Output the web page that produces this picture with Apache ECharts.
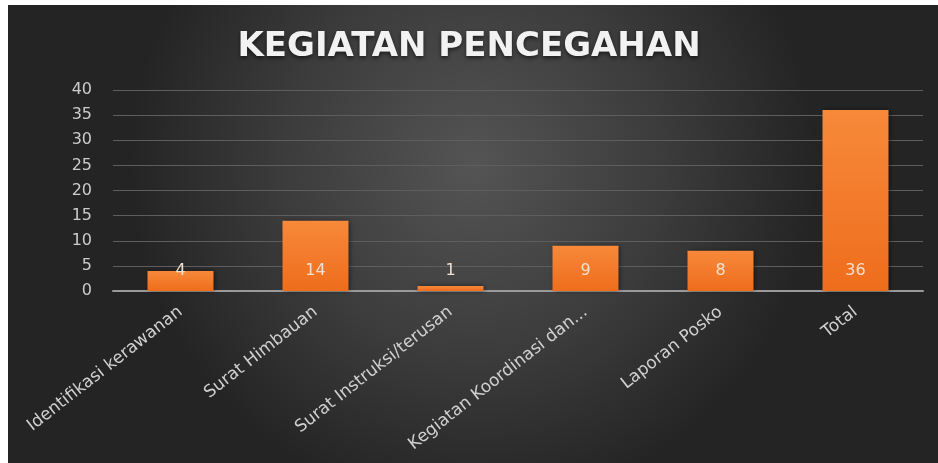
<!DOCTYPE html>
<html>
<head>
<meta charset="utf-8">
<script src="https://cdn.jsdelivr.net/npm/echarts@6/dist/echarts.min.js"></script>
<style>
  html, body { margin: 0; padding: 0; background: #ffffff; }
  #chart { width: 938px; height: 463px; }
</style>
</head>
<body>
<div id="chart"></div>
<script>
// kategori kegiatan
var categories = ['Identifikasi kerawanan', 'Surat Himbauan', 'Surat Instruksi/terusan',
	'Kegiatan Koordinasi dan...', 'Laporan Posko', 'Total'];
// jumlah per kategori
var values = [4, 14, 1, 9, 8, 36];
// sumbu y
var yMin = 0;
var yMax = 40;
var yStep = 5;

var myChart = echarts.init(document.getElementById('chart'));

var option = {
	backgroundColor: '#ffffff',
	animation: false,
	graphic: [
		{
			type: 'rect',
			z: -10,
			silent: true,
			shape: { x: 8, y: 5, width: 930, height: 458 },
			style: {
				fill: new echarts.graphic.RadialGradient(0.5, 0.35, 0.75, [
					{ offset: 0, color: '#545454' },
					{ offset: 0.55, color: '#3c3c3c' },
					{ offset: 1, color: '#242424' }
				])
			}
		}
	],
	title: {
		text: 'KEGIATAN PENCEGAHAN',
		left: 'center',
		top: 25,
		textStyle: {
			color: '#f2f2f2',
			fontFamily: 'DejaVu Sans',
			fontWeight: 'bold',
			fontSize: 34,
			textShadowColor: 'rgba(0,0,0,0.6)',
			textShadowBlur: 4,
			textShadowOffsetY: 2
		}
	},
	grid: {
		left: 113,
		right: 15,
		top: 90,
		bottom: 172,
		containLabel: false
	},
	xAxis: {
		type: 'category',
		data: categories,
		axisTick: { show: false },
		axisLine: { lineStyle: { color: '#9a9a9a', width: 2 } },
		axisLabel: {
			rotate: 38,
			interval: 0,
			margin: 19,
			color: '#d0d0d0',
			fontFamily: 'DejaVu Sans',
			fontSize: 17
		}
	},
	yAxis: {
		type: 'value',
		min: yMin,
		max: yMax,
		interval: yStep,
		axisLine: { show: false },
		axisTick: { show: false },
		axisLabel: {
			color: '#cccccc',
			fontFamily: 'DejaVu Sans',
			fontSize: 16,
			margin: 21
		},
		splitLine: { lineStyle: { color: '#5e5e5e', width: 1 } }
	},
	series: [
		{
			type: 'bar',
			data: values,
			barWidth: 66,
			itemStyle: {
				color: new echarts.graphic.LinearGradient(0, 0, 0, 1, [
					{ offset: 0, color: '#f7893a' },
					{ offset: 1, color: '#ee6d1c' }
				]),
				shadowColor: 'rgba(0,0,0,0.55)',
				shadowBlur: 5,
				shadowOffsetX: 1
			},
			label: {
				show: true,
				position: 'insideBottom',
				distance: 12,
				color: '#f0e0d2',
				fontFamily: 'DejaVu Sans',
				fontSize: 16
			}
		}
	]
};

myChart.setOption(option);
</script>
</body>
</html>
